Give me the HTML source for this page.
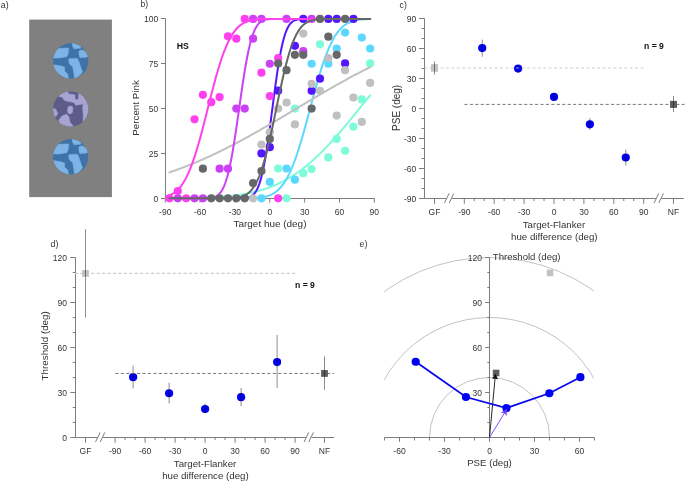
<!DOCTYPE html>
<html><head><meta charset="utf-8"><style>
html,body{margin:0;padding:0;background:#fff;}
svg{display:block;font-family:"Liberation Sans", sans-serif;will-change:transform;}
</style></head><body>
<svg width="685" height="482" viewBox="0 0 685 482">
<rect width="685" height="482" fill="#fff"/>
<text x="0.8" y="7.6" font-size="8.8" fill="#333">a)</text>
<rect x="29.2" y="19.6" width="82.7" height="177.5" fill="#808080"/>
<clipPath id="ca1"><circle cx="70.7" cy="60.9" r="17.6"/></clipPath>
<circle cx="70.7" cy="60.9" r="17.6" fill="#3f72a9"/>
<g clip-path="url(#ca1)" fill="#7db4e6">
<polygon points="52.44,56.75 54.10,51.77 57.84,48.45 68.63,48.04 68.04,53.85 66.55,56.75 59.08,58.00 52.44,58.00" stroke="#7db4e6" stroke-width="0.6" stroke-linejoin="round"/>
<polygon points="72.36,41.81 79.00,44.72 81.07,48.04 74.02,48.87 72.53,45.96" stroke="#7db4e6" stroke-width="0.6" stroke-linejoin="round"/>
<polygon points="79.00,50.94 81.90,49.95 84.81,51.36 88.96,55.51 86.47,57.17 79.83,57.58 79.00,54.26" stroke="#7db4e6" stroke-width="0.6" stroke-linejoin="round"/>
<polygon points="68.87,58.83 77.34,58.58 79.00,61.90 80.82,67.54 82.48,71.85 79.99,75.01 74.85,79.16 73.85,73.35 72.77,66.71 69.87,64.39 68.87,61.90" stroke="#7db4e6" stroke-width="0.6" stroke-linejoin="round"/>
<polygon points="52.44,64.63 59.91,65.71 64.72,67.12 64.48,71.02 67.80,74.18 68.38,79.16 62.40,76.67 55.76,72.52 52.44,68.37" stroke="#7db4e6" stroke-width="0.6" stroke-linejoin="round"/>
</g>
<clipPath id="ca2"><circle cx="70.7" cy="109.0" r="17.6"/></clipPath>
<circle cx="70.7" cy="109.0" r="17.6" fill="#5e5a8a"/>
<g clip-path="url(#ca2)" fill="#a7a4d2">
<polygon points="58.25,96.14 61.57,92.82 66.97,90.33 68.63,93.90 73.19,94.56 74.85,94.73 75.02,99.54 78.50,99.54 78.67,93.23 82.73,95.31 86.47,101.53 88.96,106.10 83.15,103.85 78.17,104.85 75.85,105.27 74.02,102.53 66.55,101.12 63.90,99.87 62.40,97.22" stroke="#a7a4d2" stroke-width="0.6" stroke-linejoin="round"/>
<polygon points="83.15,103.85 88.96,106.10 88.96,110.66 87.30,115.64 84.81,120.62 83.15,121.45 83.31,115.64 82.73,108.17" stroke="#a7a4d2" stroke-width="0.6" stroke-linejoin="round"/>
<polygon points="52.44,108.17 55.76,109.17 57.59,113.15 55.93,116.63 52.44,114.81" stroke="#a7a4d2" stroke-width="0.6" stroke-linejoin="round"/>
<polygon points="68.21,106.68 71.70,106.01 72.86,108.17 72.36,112.49 69.87,114.15 67.71,112.49 67.71,109.00" stroke="#a7a4d2" stroke-width="0.6" stroke-linejoin="round"/>
<polygon points="58.67,120.20 62.40,115.64 66.55,114.31 68.71,116.47 70.04,122.28 73.36,126.26 66.55,127.26 60.74,125.18" stroke="#a7a4d2" stroke-width="0.6" stroke-linejoin="round"/>
</g>
<clipPath id="ca3"><circle cx="70.7" cy="156.8" r="17.6"/></clipPath>
<circle cx="70.7" cy="156.8" r="17.6" fill="#3f72a9"/>
<g clip-path="url(#ca3)" fill="#7db4e6">
<polygon points="52.44,152.65 54.10,147.67 57.84,144.35 68.63,143.94 68.04,149.75 66.55,152.65 59.08,153.90 52.44,153.90" stroke="#7db4e6" stroke-width="0.6" stroke-linejoin="round"/>
<polygon points="72.36,137.71 79.00,140.62 81.07,143.94 74.02,144.77 72.53,141.86" stroke="#7db4e6" stroke-width="0.6" stroke-linejoin="round"/>
<polygon points="79.00,146.84 81.90,145.85 84.81,147.26 88.96,151.41 86.47,153.07 79.83,153.48 79.00,150.16" stroke="#7db4e6" stroke-width="0.6" stroke-linejoin="round"/>
<polygon points="68.87,154.73 77.34,154.48 79.00,157.80 80.82,163.44 82.48,167.75 79.99,170.91 74.85,175.06 73.85,169.25 72.77,162.61 69.87,160.29 68.87,157.80" stroke="#7db4e6" stroke-width="0.6" stroke-linejoin="round"/>
<polygon points="52.44,160.53 59.91,161.61 64.72,163.02 64.48,166.92 67.80,170.08 68.38,175.06 62.40,172.57 55.76,168.42 52.44,164.27" stroke="#7db4e6" stroke-width="0.6" stroke-linejoin="round"/>
</g>
<text x="140.6" y="7.3" font-size="8.6" fill="#333">b)</text>
<g stroke="#6e6e6e" stroke-width="0.9" fill="none">
<path d="M165.5,18.5 V198.5 H374.5"/>
<path d="M161,198.50 H165.5"/>
<path d="M161,153.50 H165.5"/>
<path d="M161,108.50 H165.5"/>
<path d="M161,63.50 H165.5"/>
<path d="M161,18.50 H165.5"/>
<path d="M165.25,198.5 V202.6"/>
<path d="M200.10,198.5 V202.6"/>
<path d="M234.95,198.5 V202.6"/>
<path d="M269.80,198.5 V202.6"/>
<path d="M304.65,198.5 V202.6"/>
<path d="M339.50,198.5 V202.6"/>
<path d="M374.35,198.5 V202.6"/>
</g>
<g font-size="8.5" fill="#333" text-anchor="end">
<text x="158.2" y="202.10">0</text>
<text x="158.2" y="157.10">25</text>
<text x="158.2" y="112.10">50</text>
<text x="158.2" y="67.10">75</text>
<text x="158.2" y="22.10">100</text>
</g>
<g font-size="8.5" fill="#333" text-anchor="middle">
<text x="165.25" y="214.6">-90</text>
<text x="200.10" y="214.6">-60</text>
<text x="234.95" y="214.6">-30</text>
<text x="269.80" y="214.6">0</text>
<text x="304.65" y="214.6">30</text>
<text x="339.50" y="214.6">60</text>
<text x="374.35" y="214.6">90</text>
</g>
<text x="270.0" y="226.9" font-size="9.95" fill="#333" text-anchor="middle">Target hue (deg)</text>
<text transform="translate(138.9,108.0) rotate(-90)" font-size="9.8" fill="#333" text-anchor="middle">Percent Pink</text>
<text x="176.8" y="49.4" font-size="8.7" font-weight="bold" fill="#111">HS</text>
<polyline points="169.43,198.20 170.36,198.20 171.29,198.19 172.22,198.19 173.15,198.18 174.08,198.17 175.01,198.17 175.93,198.16 176.86,198.15 177.79,198.14 178.72,198.13 179.65,198.12 180.58,198.11 181.51,198.10 182.44,198.09 183.37,198.08 184.30,198.07 185.23,198.06 186.16,198.04 187.09,198.03 188.02,198.01 188.95,198.00 189.88,197.98 190.80,197.97 191.73,197.95 192.66,197.93 193.59,197.91 194.52,197.89 195.45,197.87 196.38,197.85 197.31,197.83 198.24,197.80 199.17,197.78 200.10,197.75 201.03,197.72 201.96,197.70 202.89,197.67 203.82,197.64 204.74,197.60 205.67,197.57 206.60,197.53 207.53,197.50 208.46,197.46 209.39,197.42 210.32,197.38 211.25,197.33 212.18,197.29 213.11,197.24 214.04,197.19 214.97,197.14 215.90,197.09 216.83,197.03 217.76,196.98 218.69,196.92 219.61,196.85 220.54,196.79 221.47,196.72 222.40,196.65 223.33,196.58 224.26,196.50 225.19,196.43 226.12,196.35 227.05,196.26 227.98,196.17 228.91,196.08 229.84,195.99 230.77,195.89 231.70,195.79 232.63,195.69 233.55,195.58 234.48,195.47 235.41,195.35 236.34,195.23 237.27,195.11 238.20,194.98 239.13,194.85 240.06,194.71 240.99,194.57 241.92,194.43 242.85,194.28 243.78,194.12 244.71,193.96 245.64,193.79 246.57,193.62 247.50,193.45 248.42,193.26 249.35,193.08 250.28,192.88 251.21,192.68 252.14,192.48 253.07,192.27 254.00,192.05 254.93,191.83 255.86,191.59 256.79,191.36 257.72,191.11 258.65,190.86 259.58,190.60 260.51,190.34 261.44,190.07 262.37,189.79 263.29,189.50 264.22,189.20 265.15,188.90 266.08,188.59 267.01,188.27 267.94,187.94 268.87,187.60 269.80,187.26 270.73,186.91 271.66,186.55 272.59,186.17 273.52,185.80 274.45,185.41 275.38,185.01 276.31,184.60 277.23,184.18 278.16,183.76 279.09,183.32 280.02,182.88 280.95,182.42 281.88,181.96 282.81,181.48 283.74,181.00 284.67,180.50 285.60,179.99 286.53,179.48 287.46,178.95 288.39,178.41 289.32,177.86 290.25,177.31 291.18,176.74 292.10,176.16 293.03,175.57 293.96,174.96 294.89,174.35 295.82,173.73 296.75,173.09 297.68,172.45 298.61,171.79 299.54,171.12 300.47,170.44 301.40,169.75 302.33,169.05 303.26,168.34 304.19,167.61 305.12,166.88 306.05,166.13 306.97,165.37 307.90,164.61 308.83,163.83 309.76,163.04 310.69,162.24 311.62,161.43 312.55,160.60 313.48,159.77 314.41,158.93 315.34,158.07 316.27,157.21 317.20,156.33 318.13,155.45 319.06,154.55 319.99,153.65 320.91,152.73 321.84,151.81 322.77,150.88 323.70,149.93 324.63,148.98 325.56,148.02 326.49,147.05 327.42,146.07 328.35,145.08 329.28,144.08 330.21,143.07 331.14,142.06 332.07,141.04 333.00,140.01 333.93,138.97 334.86,137.93 335.78,136.88 336.71,135.82 337.64,134.76 338.57,133.69 339.50,132.61 340.43,131.53 341.36,130.44 342.29,129.34 343.22,128.24 344.15,127.14 345.08,126.03 346.01,124.92 346.94,123.80 347.87,122.68 348.80,121.55 349.72,120.43 350.65,119.30 351.58,118.16 352.51,117.03 353.44,115.89 354.37,114.75 355.30,113.61 356.23,112.46 357.16,111.32 358.09,110.17 359.02,109.03 359.95,107.88 360.88,106.74 361.81,105.59 362.74,104.45 363.67,103.31 364.59,102.17 365.52,101.03 366.45,99.89 367.38,98.75 368.31,97.62 369.24,96.49 370.17,95.36" fill="none" stroke="#7efbd8" stroke-width="2" stroke-linejoin="round" stroke-linecap="round"/>
<g fill="#7efbd8">
<circle cx="278.16" cy="168.52" r="4.1"/>
<circle cx="286.53" cy="198.30" r="4.1"/>
<circle cx="294.89" cy="108.60" r="4.1"/>
<circle cx="303.26" cy="173.18" r="4.1"/>
<circle cx="311.62" cy="169.06" r="4.1"/>
<circle cx="319.99" cy="44.37" r="4.1"/>
<circle cx="328.35" cy="157.40" r="4.1"/>
<circle cx="336.71" cy="138.92" r="4.1"/>
<circle cx="345.08" cy="150.76" r="4.1"/>
<circle cx="353.44" cy="126.72" r="4.1"/>
<circle cx="361.81" cy="99.45" r="4.1"/>
<circle cx="370.17" cy="63.39" r="4.1"/>
</g>
<polyline points="169.43,198.30 170.36,198.30 171.29,198.30 172.22,198.30 173.15,198.30 174.08,198.30 175.01,198.30 175.93,198.30 176.86,198.30 177.79,198.30 178.72,198.30 179.65,198.30 180.58,198.30 181.51,198.30 182.44,198.30 183.37,198.30 184.30,198.30 185.23,198.30 186.16,198.30 187.09,198.30 188.02,198.30 188.95,198.30 189.88,198.30 190.80,198.30 191.73,198.30 192.66,198.30 193.59,198.30 194.52,198.30 195.45,198.30 196.38,198.30 197.31,198.30 198.24,198.30 199.17,198.30 200.10,198.30 201.03,198.30 201.96,198.30 202.89,198.30 203.82,198.30 204.74,198.30 205.67,198.30 206.60,198.30 207.53,198.30 208.46,198.30 209.39,198.30 210.32,198.30 211.25,198.30 212.18,198.30 213.11,198.30 214.04,198.30 214.97,198.30 215.90,198.30 216.83,198.30 217.76,198.30 218.69,198.30 219.61,198.30 220.54,198.30 221.47,198.30 222.40,198.30 223.33,198.30 224.26,198.30 225.19,198.30 226.12,198.30 227.05,198.30 227.98,198.30 228.91,198.30 229.84,198.30 230.77,198.30 231.70,198.30 232.63,198.30 233.55,198.29 234.48,198.29 235.41,198.29 236.34,198.29 237.27,198.29 238.20,198.29 239.13,198.28 240.06,198.28 240.99,198.27 241.92,198.27 242.85,198.26 243.78,198.26 244.71,198.25 245.64,198.24 246.57,198.22 247.50,198.21 248.42,198.19 249.35,198.17 250.28,198.15 251.21,198.12 252.14,198.09 253.07,198.05 254.00,198.01 254.93,197.96 255.86,197.90 256.79,197.84 257.72,197.77 258.65,197.68 259.58,197.58 260.51,197.47 261.44,197.35 262.37,197.21 263.29,197.04 264.22,196.86 265.15,196.66 266.08,196.43 267.01,196.18 267.94,195.89 268.87,195.57 269.80,195.22 270.73,194.83 271.66,194.39 272.59,193.91 273.52,193.39 274.45,192.81 275.38,192.18 276.31,191.48 277.23,190.73 278.16,189.91 279.09,189.01 280.02,188.05 280.95,187.01 281.88,185.88 282.81,184.68 283.74,183.38 284.67,182.00 285.60,180.52 286.53,178.94 287.46,177.27 288.39,175.50 289.32,173.63 290.25,171.65 291.18,169.57 292.10,167.39 293.03,165.10 293.96,162.72 294.89,160.23 295.82,157.64 296.75,154.96 297.68,152.18 298.61,149.32 299.54,146.37 300.47,143.33 301.40,140.22 302.33,137.05 303.26,133.80 304.19,130.50 305.12,127.15 306.05,123.76 306.97,120.33 307.90,116.87 308.83,113.40 309.76,109.91 310.69,106.42 311.62,102.93 312.55,99.46 313.48,96.01 314.41,92.59 315.34,89.21 316.27,85.87 317.20,82.58 318.13,79.35 319.06,76.19 319.99,73.10 320.91,70.09 321.84,67.16 322.77,64.31 323.70,61.56 324.63,58.90 325.56,56.34 326.49,53.88 327.42,51.51 328.35,49.26 329.28,47.10 330.21,45.05 331.14,43.10 332.07,41.25 333.00,39.50 333.93,37.85 334.86,36.30 335.78,34.85 336.71,33.49 337.64,32.21 338.57,31.03 339.50,29.92 340.43,28.90 341.36,27.96 342.29,27.08 343.22,26.28 344.15,25.54 345.08,24.86 346.01,24.24 346.94,23.68 347.87,23.16 348.80,22.69 349.72,22.27 350.65,21.89 351.58,21.55 352.51,21.24 353.44,20.96 354.37,20.71 355.30,20.49 356.23,20.29 357.16,20.11 358.09,19.96 359.02,19.82 359.95,19.70 360.88,19.59 361.81,19.50 362.74,19.42 363.67,19.34 364.59,19.28 365.52,19.23 366.45,19.18 367.38,19.14 368.31,19.10 369.24,19.07 370.17,19.05" fill="none" stroke="#5cd8fe" stroke-width="2" stroke-linejoin="round" stroke-linecap="round"/>
<g fill="#5cd8fe">
<circle cx="261.44" cy="198.30" r="4.1"/>
<circle cx="269.80" cy="181.97" r="4.1"/>
<circle cx="286.53" cy="168.52" r="4.1"/>
<circle cx="294.89" cy="179.64" r="4.1"/>
<circle cx="311.62" cy="63.75" r="4.1"/>
<circle cx="328.35" cy="63.75" r="4.1"/>
<circle cx="336.71" cy="48.50" r="4.1"/>
<circle cx="345.08" cy="32.53" r="4.1"/>
<circle cx="361.81" cy="37.56" r="4.1"/>
<circle cx="370.17" cy="48.50" r="4.1"/>
</g>
<polyline points="169.43,198.30 170.36,198.30 171.29,198.30 172.22,198.30 173.15,198.30 174.08,198.30 175.01,198.30 175.93,198.30 176.86,198.30 177.79,198.30 178.72,198.30 179.65,198.30 180.58,198.30 181.51,198.30 182.44,198.30 183.37,198.30 184.30,198.30 185.23,198.30 186.16,198.30 187.09,198.30 188.02,198.30 188.95,198.30 189.88,198.30 190.80,198.30 191.73,198.30 192.66,198.30 193.59,198.30 194.52,198.30 195.45,198.30 196.38,198.30 197.31,198.30 198.24,198.30 199.17,198.30 200.10,198.30 201.03,198.30 201.96,198.30 202.89,198.30 203.82,198.30 204.74,198.30 205.67,198.30 206.60,198.30 207.53,198.30 208.46,198.30 209.39,198.30 210.32,198.30 211.25,198.30 212.18,198.30 213.11,198.30 214.04,198.30 214.97,198.30 215.90,198.30 216.83,198.30 217.76,198.30 218.69,198.30 219.61,198.30 220.54,198.30 221.47,198.30 222.40,198.30 223.33,198.30 224.26,198.30 225.19,198.30 226.12,198.30 227.05,198.30 227.98,198.30 228.91,198.30 229.84,198.30 230.77,198.30 231.70,198.30 232.63,198.30 233.55,198.30 234.48,198.30 235.41,198.29 236.34,198.29 237.27,198.29 238.20,198.28 239.13,198.27 240.06,198.25 240.99,198.23 241.92,198.21 242.85,198.17 243.78,198.11 244.71,198.04 245.64,197.94 246.57,197.80 247.50,197.63 248.42,197.40 249.35,197.10 250.28,196.73 251.21,196.25 252.14,195.64 253.07,194.89 254.00,193.97 254.93,192.85 255.86,191.49 256.79,189.87 257.72,187.96 258.65,185.72 259.58,183.13 260.51,180.15 261.44,176.77 262.37,172.97 263.29,168.74 264.22,164.07 265.15,158.98 266.08,153.48 267.01,147.59 267.94,141.36 268.87,134.82 269.80,128.04 270.73,121.06 271.66,113.96 272.59,106.81 273.52,99.68 274.45,92.63 275.38,85.74 276.31,79.07 277.23,72.68 278.16,66.62 279.09,60.92 280.02,55.62 280.95,50.74 281.88,46.29 282.81,42.27 283.74,38.69 284.67,35.51 285.60,32.73 286.53,30.32 287.46,28.24 288.39,26.48 289.32,25.00 290.25,23.76 291.18,22.75 292.10,21.91 293.03,21.24 293.96,20.70 294.89,20.27 295.82,19.94 296.75,19.68 297.68,19.48 298.61,19.32 299.54,19.21 300.47,19.12 301.40,19.06 302.33,19.01 303.26,18.98 304.19,18.96 305.12,18.94 306.05,18.93 306.97,18.92 307.90,18.91 308.83,18.91 309.76,18.91 310.69,18.90 311.62,18.90 312.55,18.90 313.48,18.90 314.41,18.90 315.34,18.90 316.27,18.90 317.20,18.90 318.13,18.90 319.06,18.90 319.99,18.90 320.91,18.90 321.84,18.90 322.77,18.90 323.70,18.90 324.63,18.90 325.56,18.90 326.49,18.90 327.42,18.90 328.35,18.90 329.28,18.90 330.21,18.90 331.14,18.90 332.07,18.90 333.00,18.90 333.93,18.90 334.86,18.90 335.78,18.90 336.71,18.90 337.64,18.90 338.57,18.90 339.50,18.90 340.43,18.90 341.36,18.90 342.29,18.90 343.22,18.90 344.15,18.90 345.08,18.90 346.01,18.90 346.94,18.90 347.87,18.90 348.80,18.90 349.72,18.90 350.65,18.90 351.58,18.90 352.51,18.90 353.44,18.90 354.37,18.90 355.30,18.90 356.23,18.90 357.16,18.90 358.09,18.90 359.02,18.90 359.95,18.90 360.88,18.90 361.81,18.90 362.74,18.90 363.67,18.90 364.59,18.90 365.52,18.90 366.45,18.90 367.38,18.90 368.31,18.90 369.24,18.90 370.17,18.90" fill="none" stroke="#5416fe" stroke-width="2" stroke-linejoin="round" stroke-linecap="round"/>
<g fill="#5416fe">
<circle cx="261.44" cy="153.45" r="4.1"/>
<circle cx="269.80" cy="147.17" r="4.1"/>
<circle cx="278.16" cy="90.66" r="4.1"/>
<circle cx="294.89" cy="45.81" r="4.1"/>
<circle cx="303.26" cy="18.90" r="4.1"/>
<circle cx="311.62" cy="90.84" r="4.1"/>
<circle cx="319.99" cy="78.64" r="4.1"/>
<circle cx="328.35" cy="18.90" r="4.1"/>
<circle cx="336.71" cy="18.90" r="4.1"/>
<circle cx="345.08" cy="63.39" r="4.1"/>
<circle cx="353.44" cy="18.90" r="4.1"/>
</g>
<polyline points="169.43,172.41 170.36,172.09 171.29,171.77 172.22,171.45 173.15,171.12 174.08,170.80 175.01,170.46 175.93,170.13 176.86,169.80 177.79,169.46 178.72,169.11 179.65,168.77 180.58,168.42 181.51,168.07 182.44,167.72 183.37,167.37 184.30,167.01 185.23,166.65 186.16,166.29 187.09,165.92 188.02,165.56 188.95,165.19 189.88,164.81 190.80,164.44 191.73,164.06 192.66,163.68 193.59,163.30 194.52,162.91 195.45,162.52 196.38,162.13 197.31,161.74 198.24,161.34 199.17,160.95 200.10,160.54 201.03,160.14 201.96,159.74 202.89,159.33 203.82,158.92 204.74,158.50 205.67,158.09 206.60,157.67 207.53,157.25 208.46,156.83 209.39,156.40 210.32,155.97 211.25,155.54 212.18,155.11 213.11,154.67 214.04,154.24 214.97,153.80 215.90,153.35 216.83,152.91 217.76,152.46 218.69,152.01 219.61,151.56 220.54,151.11 221.47,150.65 222.40,150.20 223.33,149.74 224.26,149.27 225.19,148.81 226.12,148.34 227.05,147.87 227.98,147.40 228.91,146.93 229.84,146.45 230.77,145.98 231.70,145.50 232.63,145.02 233.55,144.53 234.48,144.05 235.41,143.56 236.34,143.07 237.27,142.58 238.20,142.09 239.13,141.59 240.06,141.10 240.99,140.60 241.92,140.10 242.85,139.59 243.78,139.09 244.71,138.59 245.64,138.08 246.57,137.57 247.50,137.06 248.42,136.55 249.35,136.03 250.28,135.52 251.21,135.00 252.14,134.48 253.07,133.96 254.00,133.44 254.93,132.92 255.86,132.39 256.79,131.87 257.72,131.34 258.65,130.81 259.58,130.28 260.51,129.75 261.44,129.22 262.37,128.69 263.29,128.15 264.22,127.62 265.15,127.08 266.08,126.54 267.01,126.00 267.94,125.46 268.87,124.92 269.80,124.38 270.73,123.84 271.66,123.30 272.59,122.75 273.52,122.21 274.45,121.66 275.38,121.11 276.31,120.56 277.23,120.02 278.16,119.47 279.09,118.92 280.02,118.37 280.95,117.82 281.88,117.26 282.81,116.71 283.74,116.16 284.67,115.61 285.60,115.05 286.53,114.50 287.46,113.95 288.39,113.39 289.32,112.84 290.25,112.28 291.18,111.73 292.10,111.17 293.03,110.61 293.96,110.06 294.89,109.50 295.82,108.95 296.75,108.39 297.68,107.84 298.61,107.28 299.54,106.72 300.47,106.17 301.40,105.61 302.33,105.06 303.26,104.50 304.19,103.95 305.12,103.39 306.05,102.84 306.97,102.29 307.90,101.73 308.83,101.18 309.76,100.63 310.69,100.07 311.62,99.52 312.55,98.97 313.48,98.42 314.41,97.87 315.34,97.32 316.27,96.77 317.20,96.22 318.13,95.68 319.06,95.13 319.99,94.59 320.91,94.04 321.84,93.50 322.77,92.95 323.70,92.41 324.63,91.87 325.56,91.33 326.49,90.79 327.42,90.25 328.35,89.72 329.28,89.18 330.21,88.65 331.14,88.11 332.07,87.58 333.00,87.05 333.93,86.52 334.86,85.99 335.78,85.46 336.71,84.94 337.64,84.41 338.57,83.89 339.50,83.37 340.43,82.85 341.36,82.33 342.29,81.81 343.22,81.30 344.15,80.78 345.08,80.27 346.01,79.76 346.94,79.25 347.87,78.74 348.80,78.24 349.72,77.73 350.65,77.23 351.58,76.73 352.51,76.23 353.44,75.73 354.37,75.24 355.30,74.74 356.23,74.25 357.16,73.76 358.09,73.27 359.02,72.79 359.95,72.30 360.88,71.82 361.81,71.34 362.74,70.87 363.67,70.39 364.59,69.92 365.52,69.44 366.45,68.98 367.38,68.51 368.31,68.04 369.24,67.58 370.17,67.12" fill="none" stroke="#c0c0c0" stroke-width="2" stroke-linejoin="round" stroke-linecap="round"/>
<g fill="#c0c0c0">
<circle cx="253.07" cy="198.30" r="4.1"/>
<circle cx="261.44" cy="144.48" r="4.1"/>
<circle cx="269.80" cy="132.28" r="4.1"/>
<circle cx="278.16" cy="108.60" r="4.1"/>
<circle cx="286.53" cy="102.50" r="4.1"/>
<circle cx="294.89" cy="124.39" r="4.1"/>
<circle cx="303.26" cy="33.61" r="4.1"/>
<circle cx="311.62" cy="83.84" r="4.1"/>
<circle cx="319.99" cy="90.84" r="4.1"/>
<circle cx="328.35" cy="58.01" r="4.1"/>
<circle cx="336.71" cy="115.60" r="4.1"/>
<circle cx="345.08" cy="70.21" r="4.1"/>
<circle cx="353.44" cy="97.48" r="4.1"/>
<circle cx="361.81" cy="121.88" r="4.1"/>
<circle cx="370.17" cy="82.95" r="4.1"/>
</g>
<polyline points="169.43,198.30 170.36,198.30 171.29,198.30 172.22,198.30 173.15,198.30 174.08,198.30 175.01,198.30 175.93,198.30 176.86,198.30 177.79,198.30 178.72,198.30 179.65,198.30 180.58,198.30 181.51,198.30 182.44,198.30 183.37,198.30 184.30,198.30 185.23,198.30 186.16,198.30 187.09,198.30 188.02,198.30 188.95,198.30 189.88,198.30 190.80,198.30 191.73,198.30 192.66,198.30 193.59,198.30 194.52,198.30 195.45,198.30 196.38,198.30 197.31,198.30 198.24,198.30 199.17,198.29 200.10,198.29 201.03,198.29 201.96,198.28 202.89,198.27 203.82,198.26 204.74,198.24 205.67,198.22 206.60,198.18 207.53,198.14 208.46,198.08 209.39,198.01 210.32,197.91 211.25,197.78 212.18,197.61 213.11,197.40 214.04,197.13 214.97,196.79 215.90,196.37 216.83,195.85 217.76,195.21 218.69,194.44 219.61,193.50 220.54,192.39 221.47,191.07 222.40,189.52 223.33,187.72 224.26,185.63 225.19,183.25 226.12,180.54 227.05,177.50 227.98,174.10 228.91,170.33 229.84,166.20 230.77,161.71 231.70,156.86 232.63,151.68 233.55,146.17 234.48,140.38 235.41,134.34 236.34,128.10 237.27,121.69 238.20,115.17 239.13,108.60 240.06,102.03 240.99,95.51 241.92,89.10 242.85,82.86 243.78,76.82 244.71,71.03 245.64,65.52 246.57,60.34 247.50,55.49 248.42,51.00 249.35,46.87 250.28,43.10 251.21,39.70 252.14,36.66 253.07,33.95 254.00,31.57 254.93,29.48 255.86,27.68 256.79,26.13 257.72,24.81 258.65,23.70 259.58,22.76 260.51,21.99 261.44,21.35 262.37,20.83 263.29,20.41 264.22,20.07 265.15,19.80 266.08,19.59 267.01,19.42 267.94,19.29 268.87,19.19 269.80,19.12 270.73,19.06 271.66,19.02 272.59,18.98 273.52,18.96 274.45,18.94 275.38,18.93 276.31,18.92 277.23,18.91 278.16,18.91 279.09,18.91 280.02,18.90 280.95,18.90 281.88,18.90 282.81,18.90 283.74,18.90 284.67,18.90 285.60,18.90 286.53,18.90 287.46,18.90 288.39,18.90 289.32,18.90 290.25,18.90 291.18,18.90 292.10,18.90 293.03,18.90 293.96,18.90 294.89,18.90 295.82,18.90 296.75,18.90 297.68,18.90 298.61,18.90 299.54,18.90 300.47,18.90 301.40,18.90 302.33,18.90 303.26,18.90 304.19,18.90 305.12,18.90 306.05,18.90 306.97,18.90 307.90,18.90 308.83,18.90 309.76,18.90 310.69,18.90 311.62,18.90 312.55,18.90 313.48,18.90 314.41,18.90 315.34,18.90 316.27,18.90 317.20,18.90 318.13,18.90 319.06,18.90 319.99,18.90 320.91,18.90 321.84,18.90 322.77,18.90 323.70,18.90 324.63,18.90 325.56,18.90 326.49,18.90 327.42,18.90 328.35,18.90 329.28,18.90 330.21,18.90 331.14,18.90 332.07,18.90 333.00,18.90 333.93,18.90 334.86,18.90 335.78,18.90 336.71,18.90 337.64,18.90 338.57,18.90 339.50,18.90 340.43,18.90 341.36,18.90 342.29,18.90 343.22,18.90 344.15,18.90 345.08,18.90 346.01,18.90 346.94,18.90 347.87,18.90 348.80,18.90 349.72,18.90 350.65,18.90 351.58,18.90 352.51,18.90 353.44,18.90 354.37,18.90 355.30,18.90 356.23,18.90 357.16,18.90 358.09,18.90 359.02,18.90 359.95,18.90 360.88,18.90 361.81,18.90 362.74,18.90 363.67,18.90 364.59,18.90 365.52,18.90 366.45,18.90 367.38,18.90 368.31,18.90 369.24,18.90 370.17,18.90" fill="none" stroke="#cc40f6" stroke-width="2" stroke-linejoin="round" stroke-linecap="round"/>
<g fill="#cc40f6">
<circle cx="177.79" cy="198.30" r="4.1"/>
<circle cx="194.52" cy="198.30" r="4.1"/>
<circle cx="202.89" cy="198.30" r="4.1"/>
<circle cx="219.61" cy="168.70" r="4.1"/>
<circle cx="227.98" cy="168.70" r="4.1"/>
<circle cx="236.34" cy="108.60" r="4.1"/>
<circle cx="244.71" cy="108.60" r="4.1"/>
<circle cx="253.07" cy="38.63" r="4.1"/>
<circle cx="253.07" cy="18.90" r="4.1"/>
<circle cx="261.44" cy="18.90" r="4.1"/>
<circle cx="269.80" cy="63.75" r="4.1"/>
<circle cx="286.53" cy="18.90" r="4.1"/>
<circle cx="311.62" cy="18.90" r="4.1"/>
<circle cx="303.26" cy="51.19" r="4.1"/>
</g>
<polyline points="169.43,195.32 170.36,194.91 171.29,194.46 172.22,193.96 173.15,193.41 174.08,192.80 175.01,192.12 175.93,191.38 176.86,190.57 177.79,189.69 178.72,188.72 179.65,187.67 180.58,186.54 181.51,185.31 182.44,183.98 183.37,182.56 184.30,181.03 185.23,179.40 186.16,177.66 187.09,175.80 188.02,173.84 188.95,171.75 189.88,169.56 190.80,167.24 191.73,164.82 192.66,162.27 193.59,159.62 194.52,156.85 195.45,153.98 196.38,151.01 197.31,147.94 198.24,144.77 199.17,141.51 200.10,138.18 201.03,134.77 201.96,131.29 202.89,127.76 203.82,124.17 204.74,120.55 205.67,116.89 206.60,113.21 207.53,109.52 208.46,105.83 209.39,102.14 210.32,98.48 211.25,94.83 212.18,91.23 213.11,87.67 214.04,84.16 214.97,80.72 215.90,77.34 216.83,74.05 217.76,70.84 218.69,67.72 219.61,64.69 220.54,61.77 221.47,58.95 222.40,56.24 223.33,53.64 224.26,51.16 225.19,48.79 226.12,46.53 227.05,44.39 227.98,42.37 228.91,40.46 229.84,38.66 230.77,36.97 231.70,35.39 232.63,33.91 233.55,32.54 234.48,31.26 235.41,30.08 236.34,28.99 237.27,27.98 238.20,27.06 239.13,26.21 240.06,25.44 240.99,24.73 241.92,24.09 242.85,23.51 243.78,22.98 244.71,22.51 245.64,22.08 246.57,21.70 247.50,21.35 248.42,21.05 249.35,20.78 250.28,20.53 251.21,20.32 252.14,20.13 253.07,19.96 254.00,19.82 254.93,19.69 255.86,19.58 256.79,19.48 257.72,19.40 258.65,19.32 259.58,19.26 260.51,19.20 261.44,19.16 262.37,19.12 263.29,19.08 264.22,19.05 265.15,19.03 266.08,19.01 267.01,18.99 267.94,18.97 268.87,18.96 269.80,18.95 270.73,18.94 271.66,18.93 272.59,18.93 273.52,18.92 274.45,18.92 275.38,18.92 276.31,18.91 277.23,18.91 278.16,18.91 279.09,18.91 280.02,18.91 280.95,18.90 281.88,18.90 282.81,18.90 283.74,18.90 284.67,18.90 285.60,18.90 286.53,18.90 287.46,18.90 288.39,18.90 289.32,18.90 290.25,18.90 291.18,18.90 292.10,18.90 293.03,18.90 293.96,18.90 294.89,18.90 295.82,18.90 296.75,18.90 297.68,18.90 298.61,18.90 299.54,18.90 300.47,18.90 301.40,18.90 302.33,18.90 303.26,18.90 304.19,18.90 305.12,18.90 306.05,18.90 306.97,18.90 307.90,18.90 308.83,18.90 309.76,18.90 310.69,18.90 311.62,18.90 312.55,18.90 313.48,18.90 314.41,18.90 315.34,18.90 316.27,18.90 317.20,18.90 318.13,18.90 319.06,18.90 319.99,18.90 320.91,18.90 321.84,18.90 322.77,18.90 323.70,18.90 324.63,18.90 325.56,18.90 326.49,18.90 327.42,18.90 328.35,18.90 329.28,18.90 330.21,18.90 331.14,18.90 332.07,18.90 333.00,18.90 333.93,18.90 334.86,18.90 335.78,18.90 336.71,18.90 337.64,18.90 338.57,18.90 339.50,18.90 340.43,18.90 341.36,18.90 342.29,18.90 343.22,18.90 344.15,18.90 345.08,18.90 346.01,18.90 346.94,18.90 347.87,18.90 348.80,18.90 349.72,18.90 350.65,18.90 351.58,18.90 352.51,18.90 353.44,18.90 354.37,18.90 355.30,18.90 356.23,18.90 357.16,18.90 358.09,18.90 359.02,18.90 359.95,18.90 360.88,18.90 361.81,18.90 362.74,18.90 363.67,18.90 364.59,18.90 365.52,18.90 366.45,18.90 367.38,18.90 368.31,18.90 369.24,18.90 370.17,18.90" fill="none" stroke="#ff40ef" stroke-width="2" stroke-linejoin="round" stroke-linecap="round"/>
<g fill="#ff40ef">
<circle cx="169.43" cy="198.30" r="4.1"/>
<circle cx="177.79" cy="191.12" r="4.1"/>
<circle cx="186.16" cy="198.30" r="4.1"/>
<circle cx="194.52" cy="119.36" r="4.1"/>
<circle cx="202.89" cy="94.79" r="4.1"/>
<circle cx="211.25" cy="102.14" r="4.1"/>
<circle cx="219.61" cy="97.12" r="4.1"/>
<circle cx="227.98" cy="36.30" r="4.1"/>
<circle cx="236.34" cy="38.63" r="4.1"/>
<circle cx="244.71" cy="18.90" r="4.1"/>
<circle cx="261.44" cy="72.72" r="4.1"/>
<circle cx="269.80" cy="96.04" r="4.1"/>
<circle cx="278.16" cy="58.01" r="4.1"/>
<circle cx="278.16" cy="198.30" r="4.1"/>
</g>
<polyline points="169.43,198.30 170.36,198.30 171.29,198.30 172.22,198.30 173.15,198.30 174.08,198.30 175.01,198.30 175.93,198.30 176.86,198.30 177.79,198.30 178.72,198.30 179.65,198.30 180.58,198.30 181.51,198.30 182.44,198.30 183.37,198.30 184.30,198.30 185.23,198.30 186.16,198.30 187.09,198.30 188.02,198.30 188.95,198.30 189.88,198.30 190.80,198.30 191.73,198.30 192.66,198.30 193.59,198.30 194.52,198.30 195.45,198.30 196.38,198.30 197.31,198.30 198.24,198.30 199.17,198.30 200.10,198.30 201.03,198.30 201.96,198.30 202.89,198.30 203.82,198.30 204.74,198.30 205.67,198.30 206.60,198.30 207.53,198.30 208.46,198.30 209.39,198.30 210.32,198.30 211.25,198.30 212.18,198.30 213.11,198.30 214.04,198.30 214.97,198.30 215.90,198.30 216.83,198.30 217.76,198.29 218.69,198.29 219.61,198.29 220.54,198.29 221.47,198.28 222.40,198.28 223.33,198.27 224.26,198.26 225.19,198.25 226.12,198.24 227.05,198.22 227.98,198.21 228.91,198.18 229.84,198.15 230.77,198.12 231.70,198.08 232.63,198.02 233.55,197.96 234.48,197.89 235.41,197.80 236.34,197.69 237.27,197.57 238.20,197.42 239.13,197.25 240.06,197.04 240.99,196.80 241.92,196.53 242.85,196.21 243.78,195.84 244.71,195.41 245.64,194.92 246.57,194.37 247.50,193.74 248.42,193.03 249.35,192.22 250.28,191.32 251.21,190.32 252.14,189.20 253.07,187.96 254.00,186.59 254.93,185.08 255.86,183.43 256.79,181.63 257.72,179.67 258.65,177.55 259.58,175.26 260.51,172.80 261.44,170.18 262.37,167.38 263.29,164.41 264.22,161.27 265.15,157.96 266.08,154.49 267.01,150.87 267.94,147.10 268.87,143.20 269.80,139.17 270.73,135.02 271.66,130.77 272.59,126.44 273.52,122.05 274.45,117.59 275.38,113.11 276.31,108.60 277.23,104.09 278.16,99.61 279.09,95.15 280.02,90.76 280.95,86.43 281.88,82.18 282.81,78.03 283.74,74.00 284.67,70.10 285.60,66.33 286.53,62.71 287.46,59.24 288.39,55.93 289.32,52.79 290.25,49.82 291.18,47.02 292.10,44.40 293.03,41.94 293.96,39.65 294.89,37.53 295.82,35.57 296.75,33.77 297.68,32.12 298.61,30.61 299.54,29.24 300.47,28.00 301.40,26.88 302.33,25.88 303.26,24.98 304.19,24.17 305.12,23.46 306.05,22.83 306.97,22.28 307.90,21.79 308.83,21.36 309.76,20.99 310.69,20.67 311.62,20.40 312.55,20.16 313.48,19.95 314.41,19.78 315.34,19.63 316.27,19.51 317.20,19.40 318.13,19.31 319.06,19.24 319.99,19.18 320.91,19.12 321.84,19.08 322.77,19.05 323.70,19.02 324.63,18.99 325.56,18.98 326.49,18.96 327.42,18.95 328.35,18.94 329.28,18.93 330.21,18.92 331.14,18.92 332.07,18.91 333.00,18.91 333.93,18.91 334.86,18.91 335.78,18.90 336.71,18.90 337.64,18.90 338.57,18.90 339.50,18.90 340.43,18.90 341.36,18.90 342.29,18.90 343.22,18.90 344.15,18.90 345.08,18.90 346.01,18.90 346.94,18.90 347.87,18.90 348.80,18.90 349.72,18.90 350.65,18.90 351.58,18.90 352.51,18.90 353.44,18.90 354.37,18.90 355.30,18.90 356.23,18.90 357.16,18.90 358.09,18.90 359.02,18.90 359.95,18.90 360.88,18.90 361.81,18.90 362.74,18.90 363.67,18.90 364.59,18.90 365.52,18.90 366.45,18.90 367.38,18.90 368.31,18.90 369.24,18.90 370.17,18.90" fill="none" stroke="#666769" stroke-width="2" stroke-linejoin="round" stroke-linecap="round"/>
<g fill="#666769">
<circle cx="202.89" cy="168.70" r="4.1"/>
<circle cx="211.25" cy="198.30" r="4.1"/>
<circle cx="219.61" cy="198.30" r="4.1"/>
<circle cx="227.98" cy="198.30" r="4.1"/>
<circle cx="236.34" cy="198.30" r="4.1"/>
<circle cx="244.71" cy="198.30" r="4.1"/>
<circle cx="253.07" cy="183.05" r="4.1"/>
<circle cx="261.44" cy="171.03" r="4.1"/>
<circle cx="269.80" cy="138.92" r="4.1"/>
<circle cx="278.16" cy="63.39" r="4.1"/>
<circle cx="286.53" cy="70.21" r="4.1"/>
<circle cx="294.89" cy="54.78" r="4.1"/>
<circle cx="303.26" cy="54.78" r="4.1"/>
<circle cx="311.62" cy="108.60" r="4.1"/>
<circle cx="319.99" cy="18.90" r="4.1"/>
<circle cx="328.35" cy="36.66" r="4.1"/>
<circle cx="336.71" cy="54.78" r="4.1"/>
<circle cx="345.08" cy="18.90" r="4.1"/>
</g>
<text x="399.6" y="7.5" font-size="8.6" fill="#333">c)</text>
<g stroke="#6e6e6e" stroke-width="0.9" fill="none">
<path d="M424.5,18.50 V198.5 H446.3 M452.1,198.5 H655.8 M661.6,198.5 H683.8"/>
<path d="M419.00,198.50 H424.5"/>
<path d="M421.50,188.50 H424.5"/>
<path d="M421.50,178.50 H424.5"/>
<path d="M419.00,168.50 H424.5"/>
<path d="M421.50,158.50 H424.5"/>
<path d="M421.50,148.50 H424.5"/>
<path d="M419.00,138.50 H424.5"/>
<path d="M421.50,128.50 H424.5"/>
<path d="M421.50,118.50 H424.5"/>
<path d="M419.00,108.50 H424.5"/>
<path d="M421.50,98.50 H424.5"/>
<path d="M421.50,88.50 H424.5"/>
<path d="M419.00,78.50 H424.5"/>
<path d="M421.50,68.50 H424.5"/>
<path d="M421.50,58.50 H424.5"/>
<path d="M419.00,48.50 H424.5"/>
<path d="M421.50,38.50 H424.5"/>
<path d="M421.50,28.50 H424.5"/>
<path d="M419.00,18.50 H424.5"/>
<path d="M464.30,198.5 V203.80"/>
<path d="M474.26,198.5 V201.00"/>
<path d="M484.23,198.5 V201.00"/>
<path d="M494.20,198.5 V203.80"/>
<path d="M504.17,198.5 V201.00"/>
<path d="M514.13,198.5 V201.00"/>
<path d="M524.10,198.5 V203.80"/>
<path d="M534.07,198.5 V201.00"/>
<path d="M544.03,198.5 V201.00"/>
<path d="M554.00,198.5 V203.80"/>
<path d="M563.97,198.5 V201.00"/>
<path d="M573.93,198.5 V201.00"/>
<path d="M583.90,198.5 V203.80"/>
<path d="M593.87,198.5 V201.00"/>
<path d="M603.84,198.5 V201.00"/>
<path d="M613.80,198.5 V203.80"/>
<path d="M623.77,198.5 V201.00"/>
<path d="M633.74,198.5 V201.00"/>
<path d="M643.70,198.5 V203.80"/>
<path d="M434.5,198.5 V203.8 M673.5,198.5 V203.8"/>
</g>
<path d="M444.50,203.00 L449.10,193.40 M449.20,203.00 L453.80,193.40" stroke="#6e6e6e" stroke-width="0.9" fill="none"/>
<path d="M654.10,203.00 L658.70,193.40 M658.80,203.00 L663.40,193.40" stroke="#6e6e6e" stroke-width="0.9" fill="none"/>
<g font-size="8.5" fill="#333" text-anchor="end">
<text x="416.3" y="202.10">-90</text>
<text x="416.3" y="172.10">-60</text>
<text x="416.3" y="142.10">-30</text>
<text x="416.3" y="112.10">0</text>
<text x="416.3" y="82.10">30</text>
<text x="416.3" y="52.10">60</text>
<text x="416.3" y="22.10">90</text>
</g>
<g font-size="8.5" fill="#333" text-anchor="middle">
<text x="434.5" y="215.3">GF</text><text x="673.5" y="215.3">NF</text>
<text x="464.30" y="215.3">-90</text>
<text x="494.20" y="215.3">-60</text>
<text x="524.10" y="215.3">-30</text>
<text x="554.00" y="215.3">0</text>
<text x="583.90" y="215.3">30</text>
<text x="613.80" y="215.3">60</text>
<text x="643.70" y="215.3">90</text>
</g>
<text x="554" y="227.6" font-size="9.7" fill="#333" text-anchor="middle">Target-Flanker</text>
<text x="554.3" y="239.8" font-size="9.7" fill="#333" text-anchor="middle">hue difference (deg)</text>
<text transform="translate(399.6,107.9) rotate(-90)" font-size="10" fill="#333" text-anchor="middle">PSE (deg)</text>
<text x="644" y="49.2" font-size="8.6" font-weight="bold" fill="#111">n = 9</text>
<circle cx="482.24" cy="48.10" r="4.1" fill="#0000f2"/>
<circle cx="518.12" cy="68.60" r="4.1" fill="#0000f2"/>
<circle cx="554.00" cy="96.90" r="4.1" fill="#0000f2"/>
<circle cx="589.88" cy="124.30" r="4.1" fill="#0000f2"/>
<circle cx="625.76" cy="157.50" r="4.1" fill="#0000f2"/>
<path d="M424.5,68.0 H643.5" stroke="#cdcdcd" stroke-width="1.1" stroke-dasharray="2.9 2.5"/>
<path d="M464.4,104.40 H684.5" stroke="#7a7a7a" stroke-width="1" stroke-dasharray="3.2 2.23"/>
<rect x="431.0" y="64.1" width="7" height="7.6" fill="#c2c2c2"/>
<rect x="670.0" y="100.90" width="7" height="7" fill="#5e5e5e"/>
<g stroke="#000" stroke-opacity="0.45" stroke-width="1">
<path d="M434.5,61.4 V74.6"/>
<path d="M673.5,96 V112"/>
<path d="M482.24,39.6 V56.7"/>
<path d="M518.12,65.0 V72.0"/>
<path d="M554.00,93.0 V100.3"/>
<path d="M589.88,118.1 V129.8"/>
<path d="M625.76,149.6 V165.4"/>
</g>
<text x="50.5" y="246.6" font-size="8.8" fill="#333">d)</text>
<g stroke="#6e6e6e" stroke-width="0.9" fill="none">
<path d="M75.5,257.50 V437.5 H97.3 M103.1,437.5 H305.9 M311.7,437.5 H334"/>
<path d="M70.30,437.50 H75.5"/>
<path d="M72.70,422.50 H75.5"/>
<path d="M72.70,407.50 H75.5"/>
<path d="M70.30,392.50 H75.5"/>
<path d="M72.70,377.50 H75.5"/>
<path d="M72.70,362.50 H75.5"/>
<path d="M70.30,347.50 H75.5"/>
<path d="M72.70,332.50 H75.5"/>
<path d="M72.70,317.50 H75.5"/>
<path d="M70.30,302.50 H75.5"/>
<path d="M72.70,287.50 H75.5"/>
<path d="M72.70,272.50 H75.5"/>
<path d="M70.30,257.50 H75.5"/>
<path d="M115.10,437.5 V442.80"/>
<path d="M125.10,437.5 V440.00"/>
<path d="M135.10,437.5 V440.00"/>
<path d="M145.10,437.5 V442.80"/>
<path d="M155.10,437.5 V440.00"/>
<path d="M165.10,437.5 V440.00"/>
<path d="M175.10,437.5 V442.80"/>
<path d="M185.10,437.5 V440.00"/>
<path d="M195.10,437.5 V440.00"/>
<path d="M205.10,437.5 V442.80"/>
<path d="M215.10,437.5 V440.00"/>
<path d="M225.10,437.5 V440.00"/>
<path d="M235.10,437.5 V442.80"/>
<path d="M245.10,437.5 V440.00"/>
<path d="M255.10,437.5 V440.00"/>
<path d="M265.10,437.5 V442.80"/>
<path d="M275.10,437.5 V440.00"/>
<path d="M285.10,437.5 V440.00"/>
<path d="M295.10,437.5 V442.80"/>
<path d="M85.5,437.5 V442.8 M324.5,437.5 V442.8"/>
</g>
<path d="M95.50,442.00 L100.10,432.40 M100.20,442.00 L104.80,432.40" stroke="#6e6e6e" stroke-width="0.9" fill="none"/>
<path d="M304.10,442.00 L308.70,432.40 M308.80,442.00 L313.40,432.40" stroke="#6e6e6e" stroke-width="0.9" fill="none"/>
<g font-size="8.5" fill="#333" text-anchor="end">
<text x="67.0" y="441.10">0</text>
<text x="67.0" y="396.10">30</text>
<text x="67.0" y="351.10">60</text>
<text x="67.0" y="306.10">90</text>
<text x="67.0" y="261.10">120</text>
</g>
<g font-size="8.5" fill="#333" text-anchor="middle">
<text x="85.5" y="454.4">GF</text><text x="324.5" y="454.4">NF</text>
<text x="115.10" y="454.4">-90</text>
<text x="145.10" y="454.4">-60</text>
<text x="175.10" y="454.4">-30</text>
<text x="205.10" y="454.4">0</text>
<text x="235.10" y="454.4">30</text>
<text x="265.10" y="454.4">60</text>
<text x="295.10" y="454.4">90</text>
</g>
<text x="205.1" y="466.7" font-size="9.7" fill="#333" text-anchor="middle">Target-Flanker</text>
<text x="205.4" y="478.9" font-size="9.7" fill="#333" text-anchor="middle">hue difference (deg)</text>
<text transform="translate(47.9,345.8) rotate(-90)" font-size="9.8" fill="#333" text-anchor="middle">Threshold (deg)</text>
<text x="295" y="288.0" font-size="8.6" font-weight="bold" fill="#111">n = 9</text>
<circle cx="133.10" cy="377.20" r="4.1" fill="#0000f2"/>
<circle cx="169.10" cy="393.25" r="4.1" fill="#0000f2"/>
<circle cx="205.10" cy="409.00" r="4.1" fill="#0000f2"/>
<circle cx="241.10" cy="397.15" r="4.1" fill="#0000f2"/>
<circle cx="277.10" cy="362.05" r="4.1" fill="#0000f2"/>
<path d="M74.9,273.40 H295" stroke="#cdcdcd" stroke-width="1.1" stroke-dasharray="3.2 2.23"/>
<path d="M115.3,373.45 H334" stroke="#7a7a7a" stroke-width="1" stroke-dasharray="3.2 2.23"/>
<rect x="82.1" y="270.00" width="6.8" height="6.8" fill="#c2c2c2"/>
<rect x="321.1" y="370.05" width="6.8" height="6.8" fill="#5e5e5e"/>
<g stroke="#000" stroke-opacity="0.45" stroke-width="1">
<path d="M85.5,229.2 V317.4"/>
<path d="M324.5,356.4 V389.7"/>
<path d="M133.10,365.6 V388.4"/>
<path d="M169.10,382.8 V403.5"/>
<path d="M205.10,403.5 V413.2"/>
<path d="M241.10,387.9 V406.1"/>
<path d="M277.10,334.9 V388.0"/>
</g>
<text x="359.6" y="246.8" font-size="8.8" fill="#333">e)</text>
<clipPath id="ce"><rect x="384.3" y="0" width="209.6" height="437.5"/></clipPath>
<g clip-path="url(#ce)" fill="none" stroke="#a8a8a8" stroke-width="0.7">
<circle cx="489.5" cy="437.5" r="60.0"/>
<circle cx="489.5" cy="437.5" r="120.0"/>
<circle cx="489.5" cy="437.5" r="180.0"/>
</g>
<g stroke="#6e6e6e" stroke-width="0.9" fill="none">
<path d="M489.5,257.50 V437.5 M384.50,437.5 H594.50"/>
<path d="M485.10,437.50 H489.5"/>
<path d="M487.30,422.50 H489.5"/>
<path d="M487.30,407.50 H489.5"/>
<path d="M485.10,392.50 H489.5"/>
<path d="M487.30,377.50 H489.5"/>
<path d="M487.30,362.50 H489.5"/>
<path d="M485.10,347.50 H489.5"/>
<path d="M487.30,332.50 H489.5"/>
<path d="M487.30,317.50 H489.5"/>
<path d="M485.10,302.50 H489.5"/>
<path d="M487.30,287.50 H489.5"/>
<path d="M487.30,272.50 H489.5"/>
<path d="M485.10,257.50 H489.5"/>
<path d="M384.50,437.5 V440.50"/>
<path d="M399.50,437.5 V441.90"/>
<path d="M414.50,437.5 V440.50"/>
<path d="M429.50,437.5 V440.50"/>
<path d="M444.50,437.5 V441.90"/>
<path d="M459.50,437.5 V440.50"/>
<path d="M474.50,437.5 V440.50"/>
<path d="M489.50,437.5 V441.90"/>
<path d="M504.50,437.5 V440.50"/>
<path d="M519.50,437.5 V440.50"/>
<path d="M534.50,437.5 V441.90"/>
<path d="M549.50,437.5 V440.50"/>
<path d="M564.50,437.5 V440.50"/>
<path d="M579.50,437.5 V441.90"/>
<path d="M594.50,437.5 V440.50"/>
</g>
<g font-size="8.5" fill="#333" text-anchor="end">
<text x="482.0" y="396.10">30</text>
<text x="482.0" y="351.10">60</text>
<text x="482.0" y="306.10">90</text>
<text x="482.0" y="261.10">120</text>
</g>
<g font-size="8.5" fill="#333" text-anchor="middle">
<text x="399.50" y="453.6">-60</text>
<text x="444.50" y="453.6">-30</text>
<text x="489.50" y="453.6">0</text>
<text x="534.50" y="453.6">30</text>
<text x="579.50" y="453.6">60</text>
</g>
<text x="489.5" y="466.0" font-size="9.7" fill="#333" text-anchor="middle">PSE (deg)</text>
<text x="492.8" y="259.5" font-size="9.6" fill="#333">Threshold (deg)</text>
<rect x="546.80" y="269.65" width="6.6" height="6.6" fill="#c2c2c2"/>
<rect x="492.80" y="369.70" width="6.6" height="6.6" fill="#5e5e5e"/>
<path d="M489.5,437.5 L495.03,378.68" stroke="#111" stroke-width="0.9"/>
<polygon points="495.50,373.70 497.98,379.36 495.03,378.68 492.01,378.80" fill="#111"/>
<polyline points="415.70,361.75 465.95,397.00 506.45,408.10 549.35,393.25 580.40,377.20" fill="none" stroke="#0808ee" stroke-width="1.8"/>
<circle cx="415.70" cy="361.75" r="4.1" fill="#0000f2"/>
<circle cx="465.95" cy="397.00" r="4.1" fill="#0000f2"/>
<circle cx="506.45" cy="408.10" r="4.1" fill="#0000f2"/>
<circle cx="549.35" cy="393.25" r="4.1" fill="#0000f2"/>
<circle cx="580.40" cy="377.20" r="4.1" fill="#0000f2"/>
<path d="M489.5,437.5 L504.55,412.90" stroke="#7436ff" stroke-width="0.9"/>
<polygon points="507.05,408.80 506.42,416.15 504.55,412.90 500.79,412.71" fill="#7436ff"/>
</svg>
</body></html>
